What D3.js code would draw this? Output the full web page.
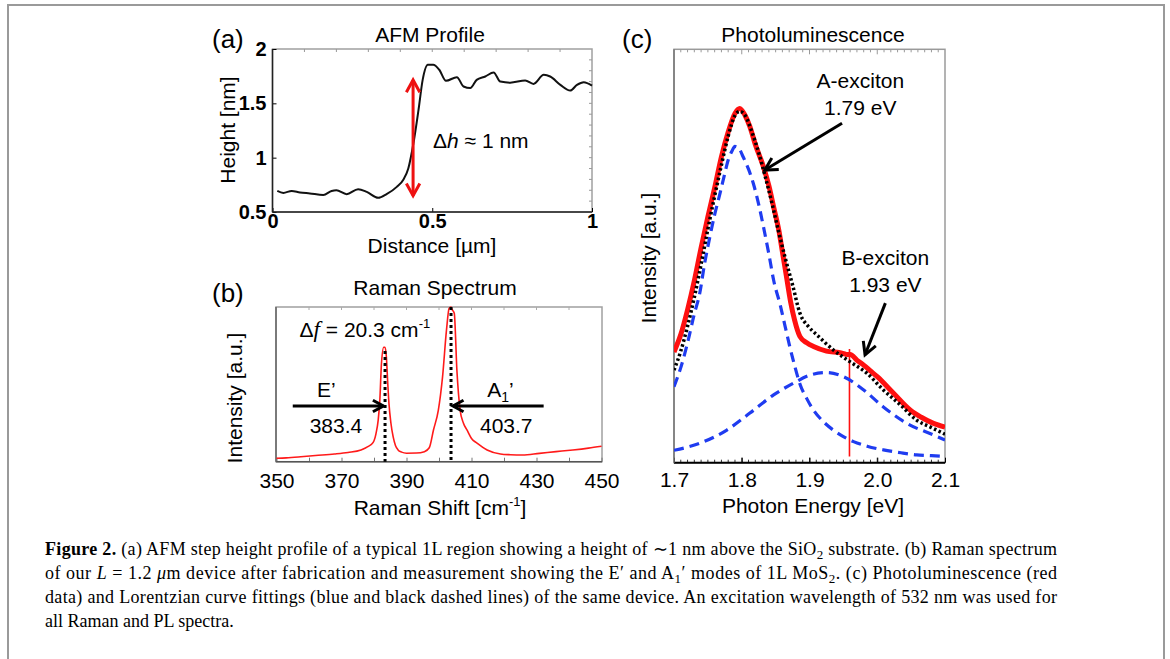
<!DOCTYPE html>
<html>
<head>
<meta charset="utf-8">
<script src="https://cdn.jsdelivr.net/npm/d3@7"></script>
<style>
  html, body { margin: 0; padding: 0; background: #fff; }
  svg { display: block; }
</style>
</head>
<body>
<script>
// ---------------- DATA ----------------
// (a) AFM profile
const afmDistance = [0.015,0.034,0.06,0.086,0.117,0.159,0.185,0.2,0.232,0.268,0.295,0.331,0.357,0.389,0.41,0.425,0.441,0.457,0.47,0.486,0.503,0.522,0.543,0.577,0.598,0.619,0.639,0.666,0.692,0.713,0.744,0.791,0.817,0.849,0.869,0.901,0.932,0.953,0.974,1.0];
const afmHeight   = [0.694,0.676,0.694,0.68,0.671,0.657,0.694,0.70,0.664,0.71,0.685,0.63,0.664,0.731,0.80,0.90,1.13,1.44,1.716,1.855,1.855,1.809,1.707,1.741,1.655,1.64,1.716,1.747,1.784,1.70,1.69,1.71,1.679,1.762,1.747,1.67,1.617,1.67,1.695,1.663];
const afmXTicks = [0, 0.5, 1];
const afmYTicks = [0.5, 1, 1.5, 2];
const afmStep = { x: 0.44, yTop: 1.715, yBottom: 0.65 };

// (b) Raman spectrum
const ramanShift = [350,353,357.5,362,367.8,372,376,378.1,379.75,380.6,381.3,381.8,382.3,383.0,383.4,383.8,384.2,384.6,385.2,385.9,386.6,387.4,388.5,390,393,395.5,397,398.3,399.8,401.1,402.3,403.1,403.7,404.0,404.7,405.5,406.5,407.5,408.6,410,411.7,414.8,418.9,422,425.7,430.9,436,441.2,446,450];
const ramanIntensity = [0.022,0.025,0.032,0.04,0.05,0.06,0.076,0.097,0.125,0.18,0.27,0.40,0.636,0.74,0.74,0.68,0.52,0.377,0.25,0.16,0.105,0.076,0.062,0.055,0.056,0.065,0.09,0.205,0.334,0.55,0.85,0.99,1.0,0.985,0.96,0.593,0.334,0.25,0.205,0.15,0.12,0.076,0.05,0.045,0.043,0.054,0.065,0.076,0.088,0.1];
const ramanXTicks = [350,370,390,410,430,450];
const ramanPeaks = [383.4, 403.7];
const ramanPeakTop = [0.715, 1.0];

// (c) Photoluminescence
const plEnergy   = [1.700,1.710,1.720,1.730,1.740,1.750,1.760,1.770,1.780,1.790,1.797,1.805,1.812,1.820,1.832,1.840,1.847,1.855,1.860,1.866,1.872,1.878,1.886,1.896,1.906,1.925,1.945,1.955,1.960,1.970,1.980,1.990,2.000,2.024,2.049,2.065,2.083,2.100];
const plData     = [0.268,0.31,0.37,0.44,0.52,0.595,0.665,0.74,0.80,0.845,0.857,0.84,0.813,0.77,0.716,0.67,0.619,0.56,0.51,0.45,0.39,0.345,0.305,0.29,0.281,0.27,0.266,0.262,0.262,0.248,0.236,0.222,0.208,0.168,0.127,0.11,0.095,0.086];
const plSpike    = { energy: 1.959, low: 0.015, high: 0.275 };
const fitEnergy  = [1.700,1.710,1.720,1.730,1.740,1.750,1.760,1.770,1.780,1.790,1.797,1.805,1.815,1.825,1.835,1.845,1.855,1.865,1.875,1.886,1.898,1.911,1.935,1.960,1.985,2.009,2.034,2.058,2.080,2.100];
const fitSum     = [0.224,0.27,0.33,0.40,0.48,0.565,0.645,0.72,0.79,0.84,0.85,0.84,0.80,0.75,0.69,0.625,0.555,0.49,0.43,0.361,0.33,0.309,0.273,0.244,0.216,0.176,0.14,0.103,0.085,0.069];
const aEnergy    = [1.700,1.710,1.720,1.730,1.738,1.745,1.753,1.760,1.768,1.775,1.780,1.785,1.790,1.796,1.802,1.810,1.817,1.825,1.832,1.840,1.847,1.857,1.864,1.871,1.878,1.886,1.896,1.906,1.920,1.935,1.950,1.965,1.985,2.009,2.035,2.058,2.080,2.100];
const aExciton   = [0.184,0.23,0.29,0.36,0.41,0.48,0.547,0.60,0.652,0.70,0.732,0.752,0.765,0.76,0.74,0.71,0.676,0.625,0.571,0.505,0.442,0.38,0.33,0.28,0.235,0.19,0.155,0.127,0.10,0.079,0.063,0.051,0.04,0.031,0.024,0.019,0.017,0.015];
const bEnergy    = [1.700,1.738,1.778,1.812,1.847,1.876,1.901,1.925,1.950,1.980,2.009,2.044,2.083,2.100];
const bExciton   = [0.03,0.047,0.079,0.12,0.164,0.192,0.212,0.218,0.208,0.176,0.135,0.095,0.067,0.055];
const plXTicks = [1.7,1.8,1.9,2.0,2.1];

// ---------------- DRAWING ----------------
const W = 1170, H = 659;
const FONT = "'Liberation Sans', Arial, sans-serif";
const svg = d3.select("body").append("svg").attr("width", W).attr("height", H);

// outer frame
const frame = svg.append("g").attr("stroke", "#9a9a9a").attr("stroke-width", 2).attr("fill", "none");
frame.append("line").attr("x1", 7).attr("x2", 1165).attr("y1", 5).attr("y2", 5);
frame.append("line").attr("x1", 8).attr("x2", 8).attr("y1", 5).attr("y2", H);
frame.append("line").attr("x1", 1164).attr("x2", 1164).attr("y1", 5).attr("y2", H);

function txt(g, x, y, s, opts = {}) {
  const t = g.append("text").attr("x", x).attr("y", y)
    .attr("font-family", FONT).attr("font-size", opts.size || 21)
    .attr("text-anchor", opts.anchor || "start").attr("fill", "#000");
  if (opts.weight) t.attr("font-weight", opts.weight);
  if (opts.html) t.html(s); else t.text(s);
  return t;
}
function vlabel(g, cx, cy, s, size = 21) {
  g.append("text").attr("transform", `translate(${cx},${cy}) rotate(-90)`)
    .attr("dy", "0.35em").attr("text-anchor", "middle")
    .attr("font-family", FONT).attr("font-size", size).text(s);
}
function arrow(g, x1, y1, x2, y2, color, width, len, both) {
  g.append("line").attr("x1", x1).attr("y1", y1).attr("x2", x2).attr("y2", y2)
    .attr("stroke", color).attr("stroke-width", width);
  const head = (px, py, fx, fy) => {
    const a = Math.atan2(py - fy, px - fx), s = 0.5;
    const p = [[px + len * Math.cos(a + Math.PI - s), py + len * Math.sin(a + Math.PI - s)],
               [px, py],
               [px + len * Math.cos(a + Math.PI + s), py + len * Math.sin(a + Math.PI + s)]];
    g.append("path").attr("d", d3.line()(p)).attr("fill", "none")
      .attr("stroke", color).attr("stroke-width", width).attr("stroke-linejoin", "miter");
  };
  head(x2, y2, x1, y1);
  if (both) head(x1, y1, x2, y2);
}
function styleAxis(a, size, weight) {
  a.select(".domain").remove();
  a.selectAll("text").attr("font-family", FONT).attr("font-size", size)
    .attr("font-weight", weight || "normal").attr("fill", "#000");
  a.selectAll(".tick line").attr("stroke", "#000");
}

// ===== Panel (a) =====
{
  const g = svg.append("g");
  const x = d3.scaleLinear().domain([0, 1]).range([272.5, 592]);
  const y = d3.scaleLinear().domain([0.5, 2]).range([212, 49]);
  g.append("rect").attr("x", x(0)).attr("y", y(2)).attr("width", x(1) - x(0)).attr("height", y(0.5) - y(2))
    .attr("fill", "none").attr("stroke", "#a0a0a0").attr("stroke-width", 1.5);
  d3.range(0.6, 2.0, 0.1).forEach(v => g.append("line").attr("x1", x(1)).attr("x2", x(1) - 3)
    .attr("y1", y(v)).attr("y2", y(v)).attr("stroke", "#999"));
  d3.range(0.1, 1.0, 0.1).forEach(v => g.append("line").attr("x1", x(v)).attr("x2", x(v))
    .attr("y1", y(2)).attr("y2", y(2) + 3).attr("stroke", "#999"));
  const ax = g.append("g").attr("transform", `translate(0,${y(0.5)})`)
    .call(d3.axisBottom(x).tickValues(afmXTicks).tickSize(-4).tickPadding(2).tickFormat(d => String(d)));
  styleAxis(ax, 20, "bold");
  const ay = g.append("g").attr("transform", `translate(${x(0)},0)`)
    .call(d3.axisLeft(y).tickValues(afmYTicks).tickSize(-4).tickPadding(6).tickFormat(d => String(d)));
  styleAxis(ay, 20, "bold");
  g.append("line").attr("x1", x(0)).attr("x2", x(1)).attr("y1", y(0.5)).attr("y2", y(0.5)).attr("stroke", "#222").attr("stroke-width", 1.5);
  g.append("line").attr("x1", x(0)).attr("x2", x(0)).attr("y1", y(0.5)).attr("y2", y(2)).attr("stroke", "#222").attr("stroke-width", 1.5);
  g.append("path").datum(afmDistance.map((d, i) => [d, afmHeight[i]]))
    .attr("d", d3.line().x(d => x(d[0])).y(d => y(d[1])).curve(d3.curveMonotoneX))
    .attr("fill", "none").attr("stroke", "#111").attr("stroke-width", 2);
  arrow(g, x(afmStep.x), y(afmStep.yBottom), x(afmStep.x), y(afmStep.yTop), "#ee1111", 3, 14, true);
  txt(g, 433, 148, 'Δ<tspan font-style="italic">h</tspan> ≈ 1 nm', { html: true });
  txt(g, 430, 42, "AFM Profile", { anchor: "middle" });
  txt(g, 212, 48, "(a)", { size: 26 });
  vlabel(g, 228, 130, "Height [nm]");
  txt(g, 432, 253, "Distance [µm]", { anchor: "middle" });
}

// ===== Panel (b) =====
{
  const g = svg.append("g");
  const x = d3.scaleLinear().domain([350, 450]).range([276.5, 601.5]);
  const y = d3.scaleLinear().domain([0, 1]).range([461.7, 307]);
  g.append("rect").attr("x", 276).attr("y", y(1)).attr("width", 602 - 276).attr("height", y(0) - y(1))
    .attr("fill", "none").attr("stroke", "#a0a0a0").attr("stroke-width", 1.5);
  d3.range(360, 450, 10).forEach(v => g.append("line").attr("x1", x(v)).attr("x2", x(v))
    .attr("y1", y(1)).attr("y2", y(1) + 3).attr("stroke", "#aaa"));
  const ax = g.append("g").attr("transform", `translate(0,${y(0)})`)
    .call(d3.axisBottom(x).tickValues(d3.range(350, 451, 10)).tickSize(-4).tickPadding(11)
      .tickFormat(d => ramanXTicks.includes(d) ? String(d) : ""));
  styleAxis(ax, 21);
  ax.selectAll(".tick line").attr("stroke", "#777");
  g.append("line").attr("x1", 276).attr("x2", 602).attr("y1", y(0)).attr("y2", y(0)).attr("stroke", "#555").attr("stroke-width", 1.5);
  g.append("line").attr("x1", 276).attr("x2", 276).attr("y1", y(0)).attr("y2", y(1)).attr("stroke", "#666").attr("stroke-width", 1.5);
  g.append("path").datum(ramanShift.map((d, i) => [d, ramanIntensity[i]]))
    .attr("d", d3.line().x(d => x(d[0])).y(d => y(d[1])).curve(d3.curveMonotoneX))
    .attr("fill", "none").attr("stroke", "#ff1a1a").attr("stroke-width", 1.6);
  ramanPeaks.forEach((p, i) => g.append("line").attr("x1", x(p)).attr("x2", x(p))
    .attr("y1", y(ramanPeakTop[i])).attr("y2", y(0))
    .attr("stroke", "#000").attr("stroke-width", 3).attr("stroke-dasharray", "3,3"));
  arrow(g, x(355), y(0.36), x(382.9), y(0.36), "#000", 3, 12);
  arrow(g, x(432.2), y(0.36), x(404.3), y(0.36), "#000", 3, 12);
  txt(g, x(365.3), y(0.418), "E’", { anchor: "middle" });
  txt(g, x(368.3), y(0.186), "383.4", { anchor: "middle" });
  txt(g, x(418.9), y(0.418), 'A<tspan font-size="14" dy="5">1</tspan><tspan dy="-5">’</tspan>', { anchor: "middle", html: true });
  txt(g, x(420.7), y(0.186), "403.7", { anchor: "middle" });
  txt(g, x(357.1), y(0.806), 'Δ<tspan font-family="\'Liberation Serif\', serif" font-style="italic" font-size="23">f</tspan> = 20.3 cm<tspan font-size="13" dy="-9">-1</tspan>', { html: true });
  txt(g, 435, 295, "Raman Spectrum", { anchor: "middle" });
  txt(g, 212, 302, "(b)", { size: 26 });
  vlabel(g, 235, 398, "Intensity [a.u.]");
  txt(g, 440, 515, 'Raman Shift [cm<tspan font-size="13" dy="-9">-1</tspan><tspan dy="9">]</tspan>', { anchor: "middle", html: true });
}

// ===== Panel (c) =====
{
  const g = svg.append("g");
  const x = d3.scaleLinear().domain([1.7, 2.1]).range([674, 945]);
  const y = d3.scaleLinear().domain([0, 1]).range([462.7, 49.3]);
  g.append("rect").attr("x", x(1.7)).attr("y", y(1)).attr("width", x(2.1) - x(1.7)).attr("height", y(0) - y(1))
    .attr("fill", "none").attr("stroke", "#9a9a9a").attr("stroke-width", 1.5);
  d3.range(1, 40).forEach(k => {
    const v = 1.7 + k * 0.01, major = k % 10 === 0;
    g.append("line").attr("x1", x(v)).attr("x2", x(v)).attr("y1", y(1)).attr("y2", y(1) + (major ? 5 : 3))
      .attr("stroke", "#999");
    g.append("line").attr("x1", x(v)).attr("x2", x(v)).attr("y1", y(0)).attr("y2", y(0) - (major ? 5 : 3))
      .attr("stroke", "#333");
  });
  const ax = g.append("g").attr("transform", `translate(0,${y(0)})`)
    .call(d3.axisBottom(x).tickValues(plXTicks).tickSize(-5).tickPadding(9).tickFormat(d3.format(".1f")));
  styleAxis(ax, 21);
  g.append("line").attr("x1", x(1.7)).attr("x2", x(2.1)).attr("y1", y(0)).attr("y2", y(0)).attr("stroke", "#000").attr("stroke-width", 2);
  g.append("line").attr("x1", x(1.7)).attr("x2", x(1.7)).attr("y1", y(0)).attr("y2", y(1)).attr("stroke", "#777").attr("stroke-width", 1.5);
  const line = d3.line().x(d => x(d[0])).y(d => y(d[1])).curve(d3.curveMonotoneX);
  g.append("clipPath").attr("id", "clipc").append("rect")
    .attr("x", x(1.7)).attr("y", y(1)).attr("width", x(2.1) - x(1.7)).attr("height", y(0) - y(1));
  const plot = g.append("g").attr("clip-path", "url(#clipc)");
  plot.append("path").datum(plEnergy.map((d, i) => [d, plData[i]])).attr("d", line)
    .attr("fill", "none").attr("stroke", "#ff1010").attr("stroke-width", 5).attr("stroke-linejoin", "round");
  plot.append("line").attr("x1", x(plSpike.energy)).attr("x2", x(plSpike.energy))
    .attr("y1", y(plSpike.low)).attr("y2", y(plSpike.high)).attr("stroke", "#ff1010").attr("stroke-width", 1.6);
  plot.append("path").datum(aEnergy.map((d, i) => [d, aExciton[i]])).attr("d", line)
    .attr("fill", "none").attr("stroke", "#1f3cf0").attr("stroke-width", 3.2).attr("stroke-dasharray", "10,6");
  plot.append("path").datum(bEnergy.map((d, i) => [d, bExciton[i]])).attr("d", line)
    .attr("fill", "none").attr("stroke", "#1f3cf0").attr("stroke-width", 3.2).attr("stroke-dasharray", "10,6");
  plot.append("path").datum(fitEnergy.map((d, i) => [d, fitSum[i]])).attr("d", line)
    .attr("fill", "none").attr("stroke", "#000").attr("stroke-width", 3.5).attr("stroke-dasharray", "2.5,2.5");
  txt(g, x(1.975), y(0.906), "A-exciton", { anchor: "middle" });
  txt(g, x(1.975), y(0.841), "1.79 eV", { anchor: "middle" });
  arrow(g, x(1.948), y(0.821), x(1.834), y(0.708), "#000", 3, 14);
  txt(g, x(2.012), y(0.478), "B-exciton", { anchor: "middle" });
  txt(g, x(2.012), y(0.414), "1.93 eV", { anchor: "middle" });
  arrow(g, x(2.012), y(0.386), x(1.982), y(0.261), "#000", 3, 14);
  txt(g, 813, 42, "Photoluminescence", { anchor: "middle" });
  txt(g, 622, 48, "(c)", { size: 26 });
  vlabel(g, 649, 258, "Intensity [a.u.]");
  txt(g, 813, 513, "Photon Energy [eV]", { anchor: "middle" });
}

// ===== Caption =====
{
  const g = svg.append("g").attr("font-family", "'Liberation Serif', 'Times New Roman', serif").attr("font-size", 18).attr("fill", "#000");
  const lines = [
    '<tspan font-weight="bold">Figure 2.</tspan> (a) AFM step height profile of a typical 1L region showing a height of ∼1  nm above the SiO<tspan font-size="13" dy="4">2</tspan><tspan dy="-4"> substrate. (b) Raman spectrum</tspan>',
    'of our <tspan font-style="italic">L</tspan> = 1.2 <tspan font-style="italic">μ</tspan>m device after fabrication and measurement showing the E′ and A<tspan font-size="13" dy="4">1</tspan><tspan dy="-4">′ modes of 1L MoS</tspan><tspan font-size="13" dy="4">2</tspan><tspan dy="-4">. (c) Photoluminescence (red</tspan>',
    'data) and Lorentzian curve fittings (blue and black dashed lines) of the same device. An excitation wavelength of 532  nm was used for',
    'all Raman and PL spectra.'
  ];
  const base = [555, 579, 603, 627];
  lines.forEach((l, i) => {
    const t = g.append("text").attr("x", 45).attr("y", base[i]).html(l);
    if (i < 3) t.attr("textLength", 1012).attr("lengthAdjust", "spacing");
  });
}
</script>
</body>
</html>
